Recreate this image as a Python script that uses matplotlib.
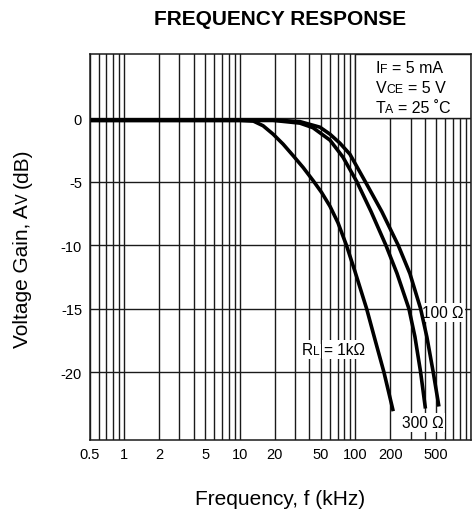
import matplotlib
matplotlib.use("Agg")
import matplotlib.pyplot as plt
from matplotlib.transforms import Affine2D
from matplotlib.ticker import FixedLocator, FixedFormatter, LogLocator, NullFormatter
from matplotlib.patches import Rectangle

plt.rcParams['font.family'] = ['Liberation Sans', 'DejaVu Sans']

# ---------------- data ----------------
x_ticks = [0.5, 1, 2, 5, 10, 20, 50, 100, 200, 500]
x_tick_labels = ["0.5", "1", "2", "5", "10", "20", "50", "100", "200", "500"]
y_ticks = [0, -5, -10, -15, -20]
y_tick_labels = ["0", "-5", "-10", "-15", "-20"]

freq_1k = [0.5, 10.0, 13.1, 15.9, 19.4, 23.7, 29.0, 35.3, 43.2, 51.0, 60.2,
           70.6, 83.6, 99.0, 125.0, 147.5, 176.4, 212.3]
gain_1k = [-0.15, -0.15, -0.21, -0.58, -1.24, -2.03, -2.95, -3.87, -4.92, -5.84,
           -6.92, -8.22, -10.0, -12.05, -15.0, -17.42, -20.0, -23.08]

freq_300 = [0.5, 19.3, 33.1, 42.9, 60.2, 78.0, 103.0, 136.2, 183.5, 228.6,
            290.3, 327.1, 366.4, 403.3]
gain_300 = [-0.15, -0.15, -0.37, -0.73, -1.71, -3.05, -5.0, -7.32, -10.0, -12.2,
            -15.0, -17.2, -20.0, -22.87]

freq_100 = [0.5, 22.2, 33.1, 49.3, 60.2, 73.4, 89.6, 122.0, 169.5, 234.6, 296.1,
            366.4, 415.6, 471.0, 527.7]
gain_100 = [-0.15, -0.15, -0.25, -0.69, -1.24, -1.95, -2.82, -5.0, -7.36, -10.0,
            -12.23, -15.0, -17.25, -20.0, -22.71]

# ---------------- figure ----------------
W, H = 473, 510
fig = plt.figure(figsize=(W / 100, H / 100), dpi=100)
ax = fig.add_axes([89.5 / W, 1 - 441 / H, (471 - 89.5) / W, (441 - 55) / H])

ax.set_xscale('log')
ax.set_xlim(0.5, 1000)
ax.set_ylim(-25.35, 5.08)

ax.xaxis.set_major_locator(FixedLocator(x_ticks))
ax.xaxis.set_major_formatter(FixedFormatter(x_tick_labels))
ax.xaxis.set_minor_locator(LogLocator(base=10, subs=range(1, 10), numticks=50))
ax.xaxis.set_minor_formatter(NullFormatter())
ax.yaxis.set_major_locator(FixedLocator(y_ticks))
ax.yaxis.set_major_formatter(FixedFormatter(y_tick_labels))

ax.tick_params(axis='x', which='both', length=0, pad=5, labelsize=10.5)
ax.tick_params(axis='y', which='both', length=0, pad=5.4, labelsize=10.5)

ax.set_axisbelow(True)
gkw = dict(color='#1a1a1a', linewidth=1.0)
ax.grid(True, which='major', axis='x', **gkw)
ax.grid(True, which='minor', axis='x', **gkw)
ax.grid(True, which='major', axis='y', **gkw)
for s in ax.spines.values():
    s.set_linewidth(1.1)
    s.set_color('#1a1a1a')

# white info box (covers grid)
ax.add_patch(Rectangle((100, 0), 900, 5.08, facecolor='white', edgecolor='#1a1a1a',
                       linewidth=1.0, zorder=1))

lkw = dict(color='black', linewidth=2.6, solid_capstyle='butt', solid_joinstyle='round', zorder=2)
ax.plot(freq_1k, gain_1k, **lkw)
ax.plot(freq_300, gain_300, **lkw)
ax.plot(freq_100, gain_100, **lkw)

# ---------------- rich text helper ----------------
renderer = fig.canvas.get_renderer()


def adv(s, size):
    t1 = fig.text(0, 0, 'x' + s + 'x', fontsize=size)
    t2 = fig.text(0, 0, 'xx', fontsize=size)
    w = t1.get_window_extent(renderer).width - t2.get_window_extent(renderer).width
    t1.remove()
    t2.remove()
    return w


def rich(target, x, y, pieces, rotation=0, zorder=3, bbox=None, center=False):
    """x, y in figure pixels from top-left; baseline start of the text."""
    advs = [adv(s, sz) for s, sz in pieces]
    total = sum(advs)
    off = -total / 2 if center else 0.0
    yd = H - y
    for (s, sz), a in zip(pieces, advs):
        st = s.lstrip()
        lead = adv(s[:len(s) - len(st)], sz) if len(st) != len(s) else 0.0
        d = off + lead
        if rotation == 0:
            tx, ty = x + d, yd
        else:
            tx, ty = x, yd + d
        kw = dict(fontsize=sz, rotation=rotation, rotation_mode='anchor',
                  ha='left', va='baseline', zorder=zorder,
                  transform=Affine2D().translate(tx, ty), clip_on=False)
        if bbox is not None:
            kw['bbox'] = bbox
        target.text(0, 0, st, **kw)
        off += a


big = 11.5
small = 8.8
rich(ax, 375.5, 73.3, [("I", big), ("F", small), (" = 5 mA", big)])
rich(ax, 375.5, 93.3, [("V", big), ("CE", small), (" = 5 V", big)])
rich(ax, 375.5, 113.3, [("T", big), ("A", small), (" = 25 \u02daC", big)])

wb = dict(boxstyle='square,pad=0.12', facecolor='white', edgecolor='none')
rich(ax, 302, 355, [("R", 11.2), ("L", 8.6), (" = 1k\u03a9", 11.2)], zorder=1.5, bbox=wb)
rich(ax, 421.5, 318.3, [("100 \u03a9", 11.2)], zorder=1.5, bbox=wb)
rich(ax, 402, 428.3, [("300 \u03a9", 11.2)], zorder=1.5, bbox=wb)

# y label (rotated, centered on axes)
rich(fig, 28, 248, [("Voltage Gain, A", 15), ("V", 11.5), (" (dB)", 15)],
     rotation=90, center=True)

# x label and title
fig.text(280.25 / W, 5 / H, "Frequency, f (kHz)", ha='center', va='baseline', fontsize=15)
fig.text(280.25 / W, (H - 25) / H, "FREQUENCY RESPONSE", ha='center', va='baseline',
         fontsize=15, fontweight='bold')

fig.savefig("out.png", dpi=100)
